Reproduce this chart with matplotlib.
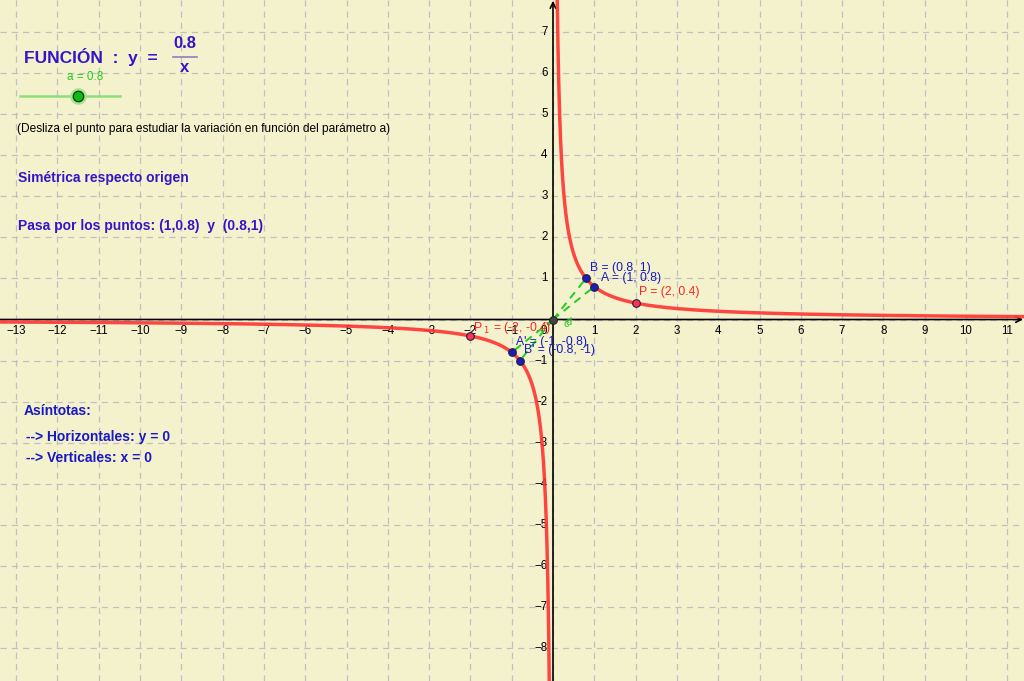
import numpy as np
import matplotlib.pyplot as plt
from matplotlib.lines import Line2D

plt.rcParams['font.family'] = ['Liberation Sans', 'DejaVu Sans']

# Parameter and notable points
a = 0.8
pt_names = ["A", "B", "A'", "B'", "P", "P1"]
pt_x = [1, 0.8, -1, -0.8, 2, -2]
pt_y = [0.8, 1, -0.8, -1, 0.4, -0.4]
lbl_text = ["A = (1, 0.8)", "B = (0.8, 1)", "A' = (-1, -0.8)", "B' = (-0.8, -1)",
            "P = (2, 0.4)", r"P$_{\ 1}$ = (-2, -0.4)"]
xticks = list(range(-13, 12))
yticks = list(range(-8, 8))

xmin, xmax = -553 / 41.3, (1024 - 553) / 41.3
ymin, ymax = -(681 - 319.5) / 41.1, 319.5 / 41.1

bg = '#f4f2cd'
blue_pt = '#1c1cb8'
red = '#ff3333'
green = '#22cc22'
txt_blue = '#3416c8'
txt_blue2 = '#1818c4'

fig = plt.figure(figsize=(10.24, 6.81), dpi=100, facecolor=bg)
ax = fig.add_axes([0, 0, 1, 1])
ax.set_facecolor(bg)
ax.set_xlim(xmin, xmax)
ax.set_ylim(ymin, ymax)
for s in ax.spines.values():
    s.set_visible(False)
ax.set_xticks(xticks)
ax.set_yticks(yticks)
ax.tick_params(length=0, labelbottom=False, labelleft=False)
ax.grid(True, color='#c0c0c0', lw=0.9, ls=(0, (5, 4)))

# axes with arrows
ax.annotate('', xy=(xmax - 0.02, 0), xytext=(xmin, 0),
            arrowprops=dict(arrowstyle='->', color='black', lw=1.2, shrinkA=0, shrinkB=0))
ax.annotate('', xy=(0, ymax - 0.02), xytext=(0, ymin),
            arrowprops=dict(arrowstyle='->', color='black', lw=1.2, shrinkA=0, shrinkB=0))

# tick labels
def fmt(v):
    return str(v).replace('-', '\u2212')

for v in xticks:
    if v == 0:
        continue
    ax.text(v, -0.13, fmt(v), ha='center', va='top', fontsize=8.3, color='black')
for v in yticks:
    if v == 0:
        continue
    ax.text(-0.13, v, fmt(v), ha='right', va='center', fontsize=8.3, color='black')
ax.text(-0.15, -0.13, '0', ha='right', va='top', fontsize=8.3, color='black')

# curve y = a/x
xr = np.linspace(a / ymax, xmax, 2000)
xl = np.linspace(xmin, a / ymin, 2000)
ax.plot(xr, a / xr, color=red, lw=2.5, alpha=0.9, solid_capstyle='butt', zorder=3)
ax.plot(xl, a / xl, color=red, lw=2.5, alpha=0.9, solid_capstyle='butt', zorder=3)

# dashed green segments from origin
for px, py in zip(pt_x[:4], pt_y[:4]):
    ax.plot([0, px], [0, py], color=green, lw=1.4, ls=(0, (4, 3)), zorder=4)

# points
for i, (px, py) in enumerate(zip(pt_x, pt_y)):
    c = blue_pt if i < 4 else '#ff3355'
    ax.plot(px, py, 'o', ms=5.5, mfc=c, mec='#202040', mew=0.8, zorder=5)
ax.plot(0, 0, 'o', ms=5.5, mfc='#444444', mec='#222222', mew=0.8, zorder=5)

# point labels
lbl_pos = [(1.17, 1.0), (0.9, 1.25), (-0.9, -0.55), (-0.7, -0.75), (2.08, 0.66), (-1.93, -0.2)]
for i, (t, (lx, ly)) in enumerate(zip(lbl_text, lbl_pos)):
    c = txt_blue2 if i < 4 else '#ff2222'
    ax.text(lx, ly, t, ha='left', va='center', fontsize=8.7, color=c, zorder=6)
ax.text(0.25, -0.12, 'c', ha='left', va='center', fontsize=8, color=green, zorder=6)
ax.text(0.3, -0.07, 'd', ha='left', va='center', fontsize=8, color=green, zorder=6)

# texts in pixel-like coordinates (axes fraction)
def P(x, y):
    return x / 1024, 1 - y / 681

kw = dict(transform=ax.transAxes, zorder=7)
ax.text(*P(24, 57), 'FUNCIÓN  :  y  =', fontsize=12.5, fontweight='bold', color=txt_blue,
        ha='left', va='center', **kw)
ax.text(*P(185, 44), '0.8', fontsize=12, fontweight='bold', color=txt_blue, ha='center', va='center', **kw)
ax.text(*P(185, 68), 'x', fontsize=12, fontweight='bold', color=txt_blue, ha='center', va='center', **kw)
ax.add_line(Line2D([173 / 1024, 197 / 1024], [1 - 57 / 681] * 2, transform=ax.transAxes,
                   color='#8a80c8', lw=1.2, zorder=7))

# slider
ax.text(*P(85, 77), 'a = 0.8', fontsize=8.5, color=green, ha='center', va='center', **kw)
ax.add_line(Line2D([20 / 1024, 120 / 1024], [1 - 96 / 681] * 2, transform=ax.transAxes,
                   color='#8fdc7a', lw=1.8, zorder=7))
ax.plot(*P(78, 96), 'o', ms=12, mfc='#a6e48e', mec='none', transform=ax.transAxes, zorder=7)
ax.plot(*P(78, 96), 'o', ms=7.5, mfc='#11bb11', mec='#114411', mew=1, transform=ax.transAxes, zorder=8)

ax.text(*P(17, 129), '(Desliza el punto para estudiar la variación en función del parámetro a)',
        fontsize=8.6, color='black', ha='left', va='center', **kw)
ax.text(*P(18, 178), 'Simétrica respecto origen', fontsize=10, fontweight='bold', color=txt_blue,
        ha='left', va='center', **kw)
ax.text(*P(18, 226), 'Pasa por los puntos: (1,0.8)  y  (0.8,1)', fontsize=10, fontweight='bold',
        color=txt_blue, ha='left', va='center', **kw)
ax.text(*P(24, 411), 'Asíntotas:', fontsize=10, fontweight='bold', color=txt_blue2,
        ha='left', va='center', **kw)
ax.text(*P(26, 437), '--> Horizontales: y = 0', fontsize=10, fontweight='bold', color=txt_blue2,
        ha='left', va='center', **kw)
ax.text(*P(26, 458), '--> Verticales: x = 0', fontsize=10, fontweight='bold', color=txt_blue2,
        ha='left', va='center', **kw)

fig.savefig('out.png', dpi=100, facecolor=bg)
